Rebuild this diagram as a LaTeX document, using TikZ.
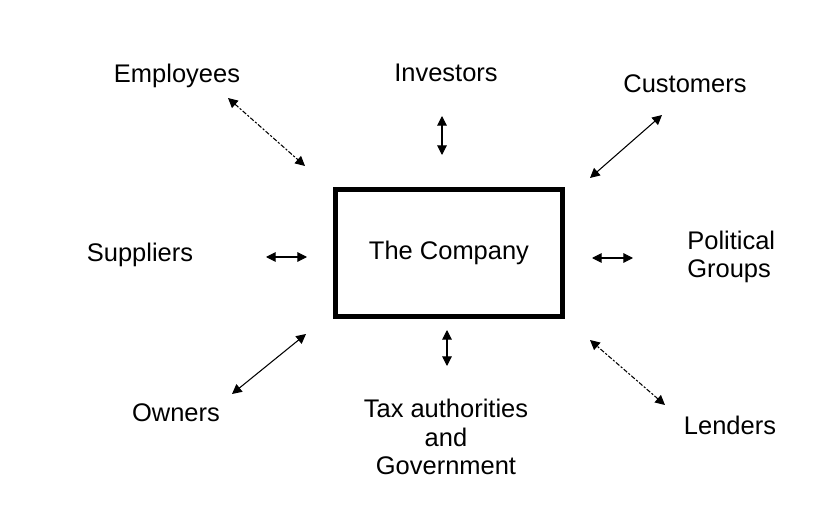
\documentclass[tikz,border=0pt]{standalone}
\usepackage{fontspec}
\setmainfont{Liberation Sans}
\usetikzlibrary{arrows.meta,positioning}

\begin{document}
\begin{tikzpicture}[x=0.02cm, y=-0.02cm,
		label/.style={font={\fontsize{14.5}{16.3}\selectfont}, align=center, inner sep=0pt},
		company/.style={draw, line width=2.9pt, minimum width=4.54cm, minimum height=2.54cm, font={\fontsize{14.5}{16.3}\selectfont}},
		link/.style={{Triangle[length=5.5pt,width=5.5pt]}-{Triangle[length=5.5pt,width=5.5pt]}, line width=0.6pt},
		dashlink/.style={link, dash pattern=on 2.6pt off 1pt on 1.2pt off 1pt}]
	\useasboundingbox (0,0) rectangle (836,527);

	\node[company] (comp) at (449,253) {The Company};

	\node[label] (empl) at (177,76) {Employees};
	\node[label] (inv) at (446,73) {Investors};
	\node[label] (cust) at (685,84) {Customers};
	\node[label] (supp) at (140,255) {Suppliers};
	\node[label, align=left, anchor=west] (pol) at (687,257) {Political\\Groups};
	\node[label] (own) at (176,413) {Owners};
	\node[label] (tax) at (446,437) {Tax authorities\\and\\Government};
	\node[label] (lend) at (730,425) {Lenders};

	% arrow ends
	\coordinate (empl-a) at (228,98);   \coordinate (empl-b) at (305,166);
	\coordinate (inv-a) at (442,116);   \coordinate (inv-b) at (442,155);
	\coordinate (cust-a) at (662,115);  \coordinate (cust-b) at (590,178);
	\coordinate (supp-a) at (266,257);  \coordinate (supp-b) at (307,257);
	\coordinate (pol-a) at (633,258);   \coordinate (pol-b) at (592,258);
	\coordinate (own-a) at (232,394);   \coordinate (own-b) at (306,334);
	\coordinate (tax-a) at (447,366);   \coordinate (tax-b) at (447,330);
	\coordinate (lend-a) at (665,405);  \coordinate (lend-b) at (590,340);

	\draw[dashlink] (empl-a) -- (empl-b);
	\draw[link] (inv-a) -- (inv-b);
	\draw[link] (cust-a) -- (cust-b);
	\draw[link] (supp-a) -- (supp-b);
	\draw[link] (pol-a) -- (pol-b);
	\draw[link] (own-a) -- (own-b);
	\draw[link] (tax-a) -- (tax-b);
	\draw[dashlink] (lend-a) -- (lend-b);
\end{tikzpicture}
\end{document}
